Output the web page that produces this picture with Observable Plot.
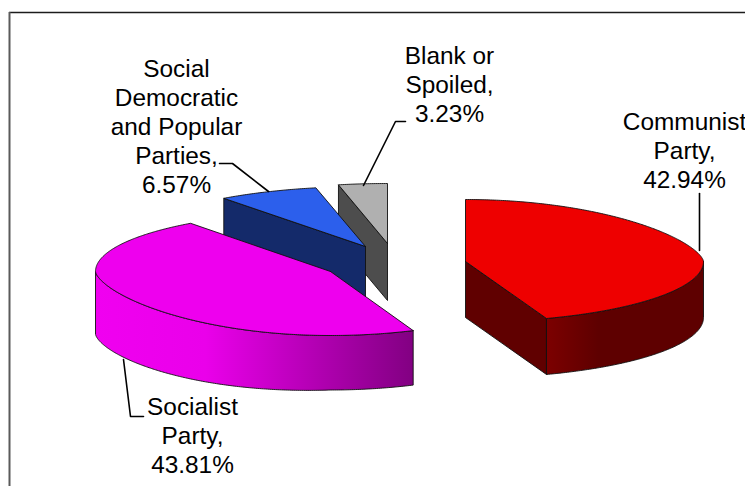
<!DOCTYPE html>
<html>
<head>
<meta charset="utf-8">
<title>Vote shares</title>
<script src="https://cdn.jsdelivr.net/npm/d3@7"></script>
<script src="https://cdn.jsdelivr.net/npm/@observablehq/plot@0.6"></script>
<style>
  html, body { margin: 0; padding: 0; background: #fff; overflow: hidden; }
  svg { display: block; }
</style>
</head>
<body>
<div id="chart"></div>
<script>
// Vote shares; the pie normalises them, so blank ballots close the circle.
const parties = ["Communist Party", "Socialist Party", "Social Democratic and Popular Parties", "Blank or Spoiled"];
const shares = [42.94, 43.81, 6.57, 3.23];
const labels = [
  "Communist\nParty,\n42.94%",
  "Socialist\nParty,\n43.81%",
  "Social\nDemocratic\nand Popular\nParties,\n6.57%",
  "Blank or\nSpoiled,\n3.23%"
];

// Where each exploded wedge sits and how the tilted disc is foreshortened.
const wedgeStyle = [
  {cx: 465, cy: 261, rx: 238, rxRight: 238, back: 62, front: 60.6, backPow: 1.3, frontPow: 1, depth: 56, lean: 0,
   top: "#ee0000", cut: "#600000", shade: [[546, "#7c0000"], [598, "#5e0000"], [703, "#5e0000"]]},
  {cx: 330, cy: 271, rx: 235, rxRight: 243, back: 60, front: 64, backPow: 1, frontPow: 1.3, depth: 54.5, lean: 8,
   top: "#ee00ee", cut: "#800080", shade: [[95, "#f000f0"], [205, "#ea00ea"], [413, "#820082"]]},
  {cx: 365, cy: 246, rx: 238, rxRight: 238, back: 60, front: 60, backPow: 1, frontPow: 1, depth: 57, lean: 0,
   top: "#2c5fec", cut: "#142a6a", shade: [[0, "#142a6a"], [745, "#142a6a"]]},
  {cx: 387, cy: 243, rx: 235, rxRight: 235, back: 60, front: 60, backPow: 1, frontPow: 1, depth: 57, lean: 0,
   top: "#b0b0b0", cut: "#4d4d4d", shade: [[0, "#4d4d4d"], [745, "#4d4d4d"]]}
];

// Label anchors (block centre) and leader lines.
const labelAt = [[684, 149], [192, 434], [176, 125], [449, 83]];
const leaders = [
  [[699, 193], [699, 250]],
  [[123, 359], [130, 416], [143, 416]],
  [[219, 163], [232, 163], [268, 191]],
  [[405, 121], [395, 121], [363, 185]]
];

const arcs = d3.pie().sort(null).value(d => d).startAngle(0).endAngle(2 * Math.PI)(shares);

function rimPoint(s, t) {
  const c = Math.cos(t), sn = Math.sin(t);
  const dy = c >= 0 ? -s.back * Math.pow(c, s.backPow) : s.front * Math.pow(-c, s.frontPow);
  return [s.cx + (sn > 0 ? s.rxRight : s.rx) * sn, s.cy + dy];
}
const wallDepth = (s, t) => s.depth + s.lean * Math.max(0, -Math.sin(t));
const dropped = (s, t) => { const p = rimPoint(s, t); return [p[0], p[1] + wallDepth(s, t)]; };

function sweep(a, b, step = Math.PI / 360) {
  const n = Math.max(1, Math.ceil((b - a) / step));
  return d3.range(n + 1).map(i => a + (b - a) * i / n);
}

const polygon = (pts, options) => Plot.line([...pts, pts[0]], {x: d => d[0], y: d => d[1], curve: "linear", ...options});

// Left-to-right shading of the curved walls, in chart coordinates.
function wallGradients(index, scales) {
  const defs = d3.create("svg:defs");
  wedgeStyle.forEach((s, i) => {
    const x0 = s.shade[0][0], x1 = s.shade[s.shade.length - 1][0];
    const g = defs.append("linearGradient")
      .attr("id", `wall-${i}`)
      .attr("gradientUnits", "userSpaceOnUse")
      .attr("x1", scales.x(x0)).attr("x2", scales.x(x1))
      .attr("y1", 0).attr("y2", 0);
    s.shade.forEach(([x, colour]) => {
      g.append("stop").attr("offset", (x - x0) / (x1 - x0)).attr("stop-color", colour);
    });
  });
  return defs.node();
}

function wedgeMarks(i) {
  const s = wedgeStyle[i], {startAngle: a, endAngle: b} = arcs[i];
  const marks = [];
  const apex = [s.cx, s.cy], apexLow = [s.cx, s.cy + s.depth];
  const outline = {stroke: "#111", strokeWidth: 0.9, strokeLinejoin: "round"};

  // Flat faces of the cut, shown only where they turn towards the viewer.
  const cut = t => polygon([apex, rimPoint(s, t), dropped(s, t), apexLow], {fill: s.cut, ...outline});
  if (Math.sin(a) < -1e-6) marks.push(cut(a));
  if (Math.sin(b) > 1e-6) marks.push(cut(b));

  // Curved outer wall.
  const lo = Math.max(a, Math.PI / 2), hi = Math.min(b, 3 * Math.PI / 2);
  if (hi > lo) {
    const ts = sweep(lo, hi);
    const upper = ts.map(t => rimPoint(s, t));
    const lower = ts.map(t => dropped(s, t)).reverse();
    marks.push(polygon([...upper, ...lower], {fill: `url(#wall-${i})`, ...outline}));
  }

  // Top face.
  const rimTop = sweep(a, b).map(t => rimPoint(s, t));
  marks.push(polygon([apex, ...rimTop], {fill: s.top, ...outline}));
  return marks;
}

const paintOrder = [3, 2, 1, 0];

const chart = Plot.plot({
  width: 745,
  height: 486,
  margin: 0,
  style: {background: "#fff", fontFamily: "'Liberation Sans', Arial, sans-serif"},
  x: {domain: [0, 745], range: [0, 745], axis: null},
  y: {domain: [0, 486], range: [0, 486], axis: null},
  marks: [
    wallGradients,
    Plot.ruleY([12], {x1: 9, x2: 745, stroke: "#1c1c1c", strokeWidth: 1.6}),
    Plot.ruleX([9], {y1: 12, y2: 486, stroke: "#5a5a5a", strokeWidth: 2}),
    ...paintOrder.flatMap(wedgeMarks),
    ...leaders.map(pts => Plot.line(pts, {x: d => d[0], y: d => d[1], curve: "linear", stroke: "#000", strokeWidth: 1.6})),
    Plot.text(labels, {
      x: (d, i) => labelAt[i][0],
      y: (d, i) => labelAt[i][1],
      text: d => d,
      fontSize: 24.4,
      lineHeight: 1.19,
      fill: "#000",
      textAnchor: "middle"
    })
  ]
});
document.getElementById("chart").append(chart);
</script>
</body>
</html>
